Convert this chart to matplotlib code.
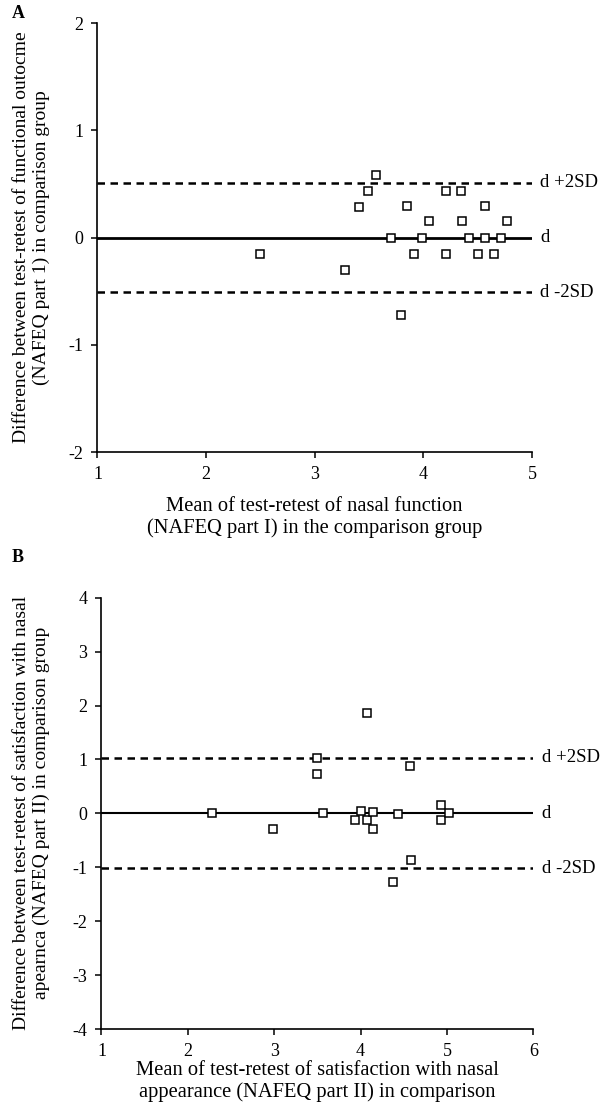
import numpy as np
import matplotlib
matplotlib.use("Agg")
import matplotlib.pyplot as plt

plt.rcParams['font.family'] = ['Liberation Serif', 'DejaVu Serif']
plt.rcParams['axes.unicode_minus'] = False

# Panel A: nasal function (NAFEQ part I)
a_mean = [2.50, 3.28, 3.41, 3.49, 3.56, 3.70, 3.79, 3.85, 3.91, 3.99, 4.05,
          4.21, 4.21, 4.35, 4.36, 4.42, 4.50, 4.57, 4.57, 4.65, 4.71, 4.77]
a_diff = [-0.15, -0.30, 0.28, 0.43, 0.58, 0.00, -0.72, 0.29, -0.15, 0.00, 0.15,
          0.43, -0.15, 0.43, 0.15, 0.00, -0.15, 0.29, 0.00, -0.15, 0.00, 0.15]
a_d = 0.0
a_lo, a_hi = -0.51, 0.51

# Panel B: satisfaction with nasal appearance (NAFEQ part II)
b_mean = [2.28, 2.99, 3.49, 3.49, 3.57, 3.93, 4.00, 4.08, 4.08, 4.14, 4.14,
          4.37, 4.43, 4.57, 4.58, 4.93, 4.93, 5.02]
b_diff = [0.00, -0.29, 1.02, 0.73, 0.00, -0.13, 0.05, -0.13, 1.87, 0.03, -0.29,
          -1.28, -0.01, 0.87, -0.86, 0.16, -0.13, 0.00]
b_d = 0.0
b_lo, b_hi = -1.02, 1.03

fs_tick = 13
fs_ylab = 14
fs_xlab = 14.8
fs_line = 13.5

fig = plt.figure(figsize=(6.04, 11.18), dpi=100)
axA = fig.add_axes([0.1614, 0.5957, 0.7194, 0.3837])
axB = fig.add_axes([0.1680, 0.0796, 0.7149, 0.3858])


def bland_altman(ax, x, y, d, lo, hi, xlim, ylim, xlab, ylab, ylab_x, xlab_y, lw_mean):
    ax.plot(x, y, ls='none', marker='s', ms=6, mfc='white', mec='black', mew=1.1,
            zorder=3)
    ax.plot(xlim, [d, d], color='black', lw=lw_mean, zorder=2)
    ax.plot(xlim, [hi, hi], color='black', lw=1.8, ls=(0, (3, 2.2)), zorder=2)
    ax.plot(xlim, [lo, lo], color='black', lw=1.8, ls=(0, (3, 2.2)), zorder=2)
    for val, txt in [(hi, 'd +2SD'), (d, 'd'), (lo, 'd -2SD')]:
        ax.annotate(txt, xy=(xlim[1], val), xytext=(6, 0), textcoords='offset points',
                    va='center', ha='left', fontsize=fs_line, annotation_clip=False)
    ax.set_xlim(xlim)
    ax.set_ylim(ylim)
    ax.set_xticks(np.arange(xlim[0], xlim[1] + 1))
    ax.set_yticks(np.arange(ylim[0], ylim[1] + 1))
    for s in ['top', 'right']:
        ax.spines[s].set_visible(False)
    for s in ['left', 'bottom']:
        ax.spines[s].set_linewidth(1.2)
    ax.tick_params(direction='out', length=4, width=1.1, labelsize=fs_tick, pad=6)
    ax.set_xlabel(xlab, fontsize=fs_xlab, linespacing=1.15)
    ax.set_ylabel(ylab, fontsize=fs_ylab, linespacing=1.2)
    ax.xaxis.set_label_coords(0.5, xlab_y)
    ax.yaxis.set_label_coords(ylab_x, 0.5)


bland_altman(axA, a_mean, a_diff, a_d, a_lo, a_hi, (1, 5), (-2, 2),
             'Mean of test-retest of nasal function\n(NAFEQ part I) in the comparison group',
             'Difference between test-retest of functional outocme\n(NAFEQ part 1) in comparison group',
             -0.11, -0.105, 2.0)
bland_altman(axB, b_mean, b_diff, b_d, b_lo, b_hi, (1, 6), (-4, 4),
             'Mean of test-retest of satisfaction with nasal\nappearance (NAFEQ part II) in comparison',
             'Difference between test-retest of satisfaction with nasal\napearnca (NAFEQ part II) in comparison group',
             -0.119, -0.074, 1.5)

fig.text(18 / 604, 1 - 14 / 1118, 'A', fontsize=13, fontweight='bold', ha='center', va='center')
fig.text(18 / 604, 1 - 557 / 1118, 'B', fontsize=13, fontweight='bold', ha='center', va='center')

fig.savefig('out.png', dpi=100)
